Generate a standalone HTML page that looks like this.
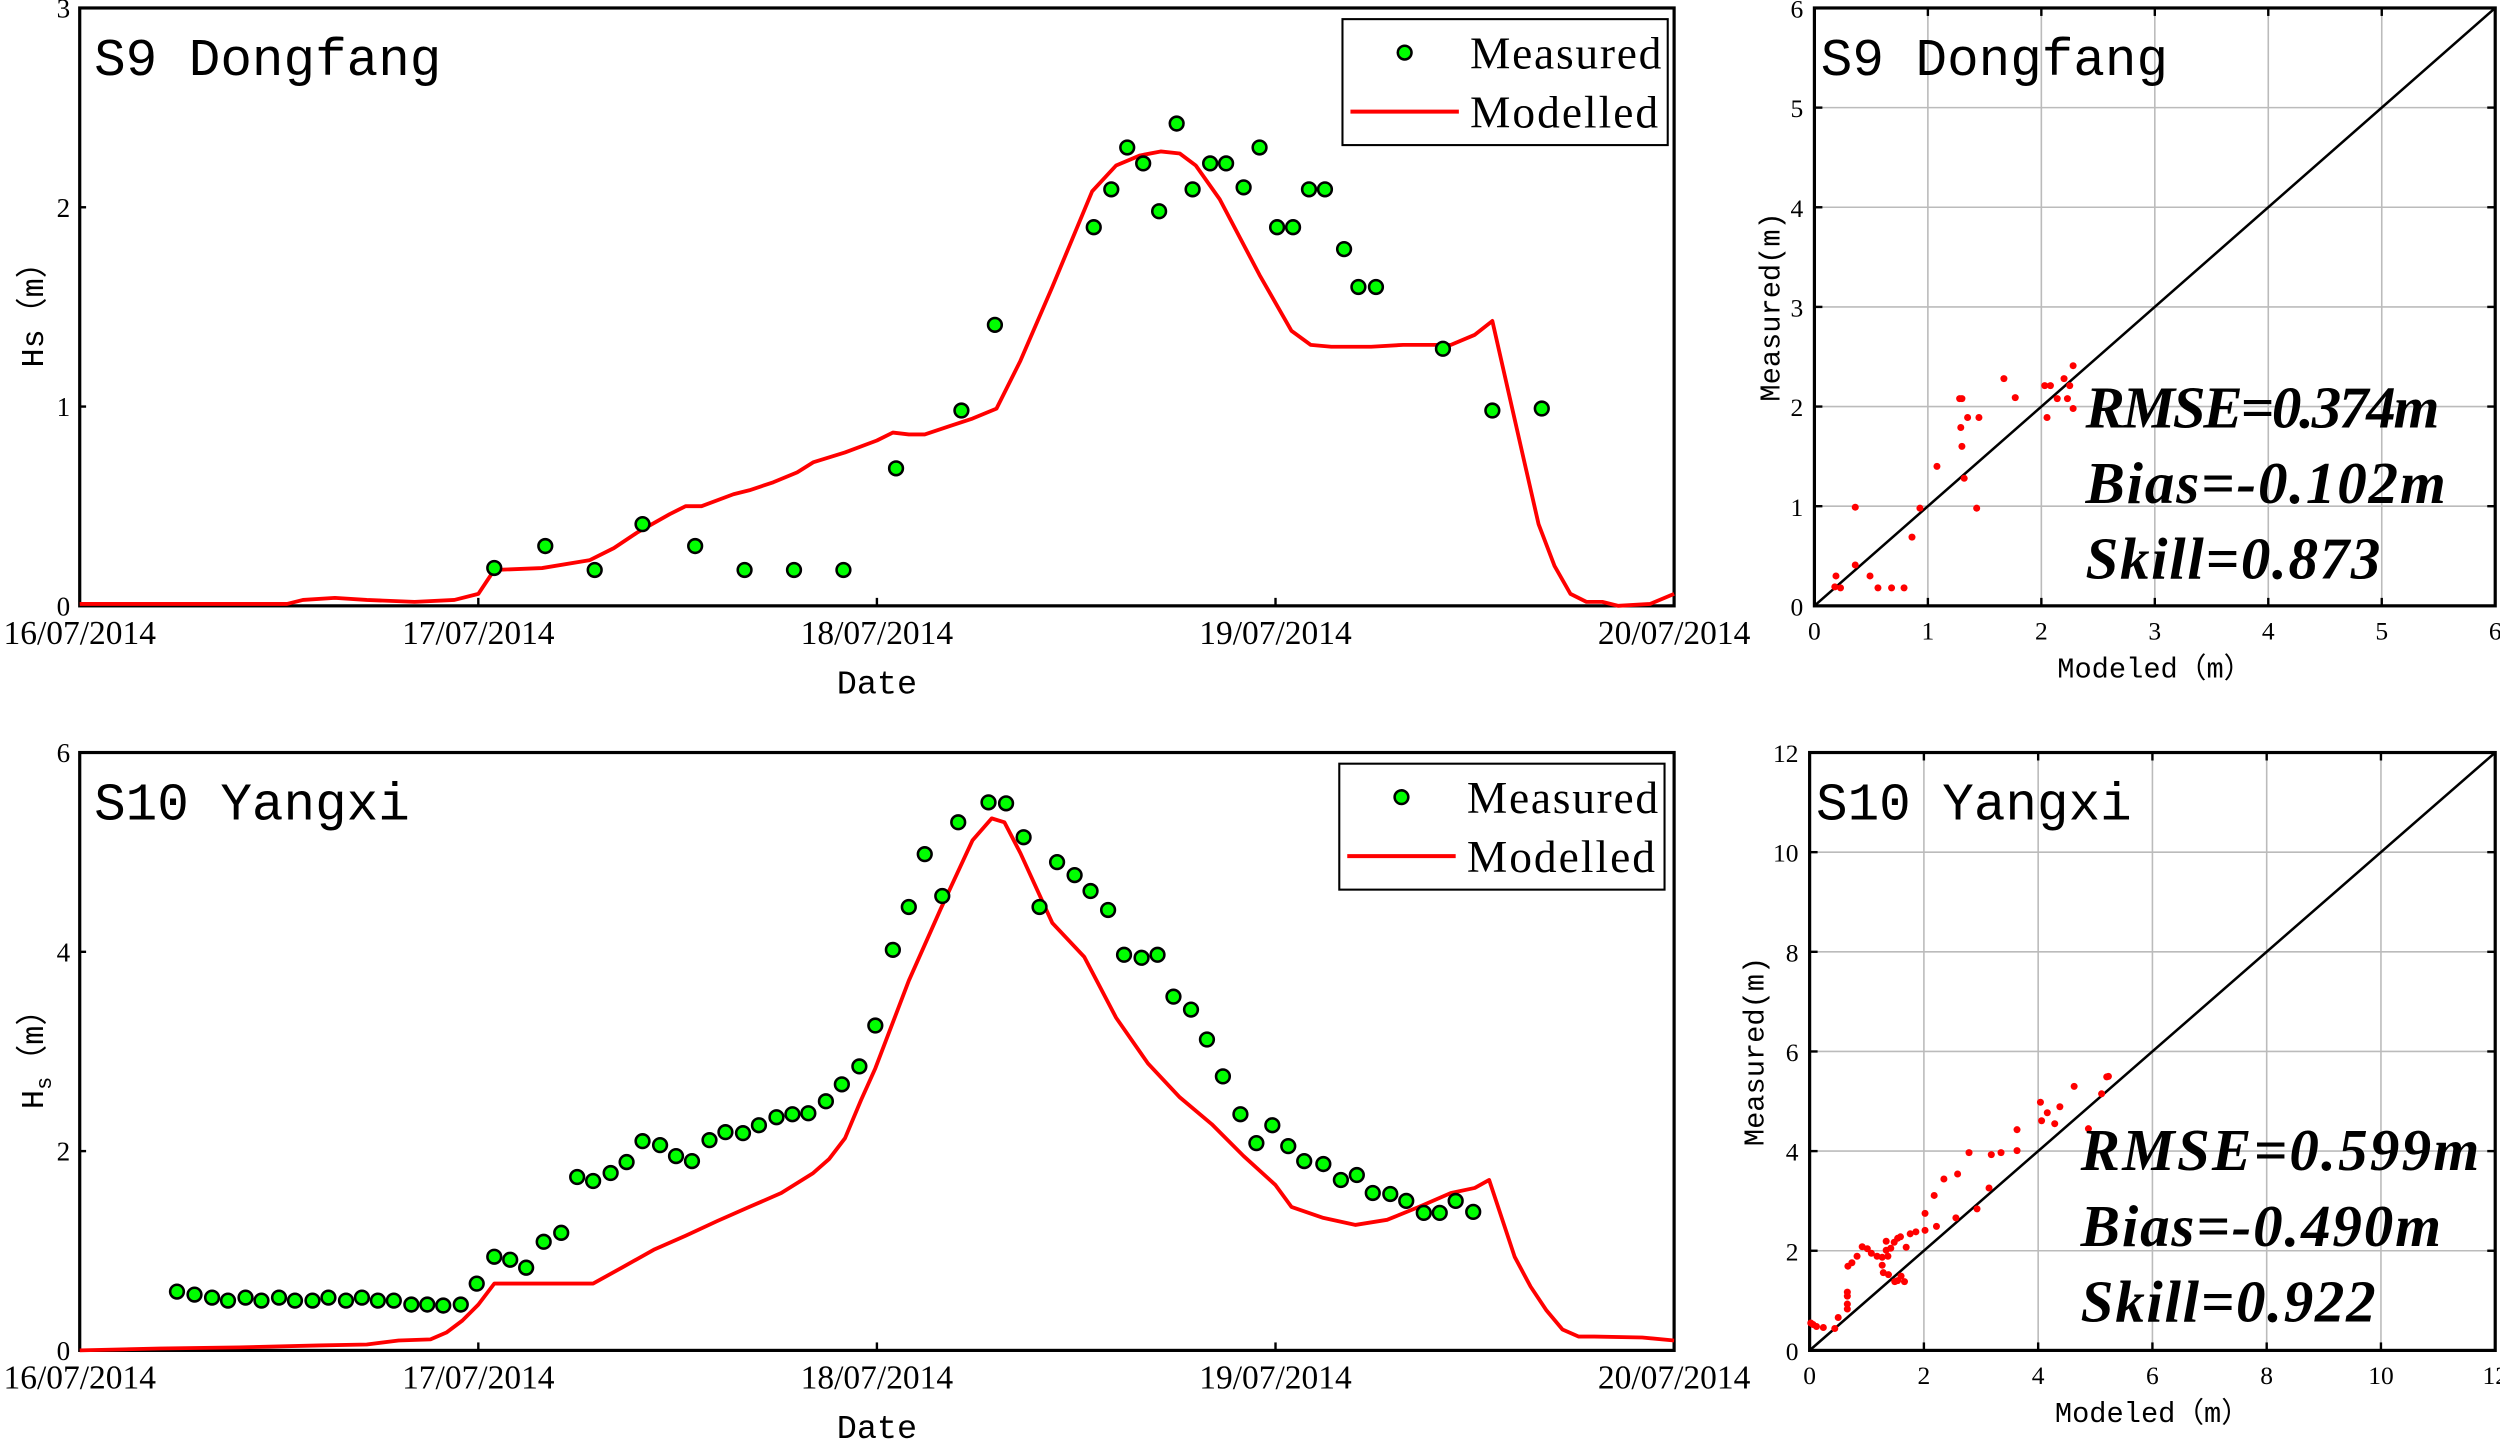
<!DOCTYPE html>
<html><head><meta charset="utf-8"><style>
html,body{margin:0;padding:0;background:#fff;}
svg{display:block;}
text{font-family:"Liberation Serif","Noto Serif CJK SC",serif;fill:#000;}
.mono{font-family:"Liberation Mono","Noto Sans CJK SC",monospace;}
.stat{font-weight:bold;font-style:italic;font-size:37px;}
</style></head><body>
<svg id="fig" width="2500" height="1440" viewBox="0 0 1568 903.2" preserveAspectRatio="none" xmlns="http://www.w3.org/2000/svg"></svg>
<script>
// ---------- data ----------
const dateTicks = ["16/07/2014","17/07/2014","18/07/2014","19/07/2014","20/07/2014"];
const s9MeasDay = [1.04,1.168,1.292,1.412,1.544,1.668,1.792,1.916,2.048,2.212,2.296,2.544,2.588,2.628,2.668,2.708,2.752,2.792,2.836,2.876,2.92,2.96,3.004,3.044,3.084,3.124,3.172,3.208,3.252,3.42,3.544,3.668];
const s9MeasHs = [0.19,0.30,0.18,0.41,0.30,0.18,0.18,0.18,0.69,0.98,1.41,1.90,2.09,2.30,2.22,1.98,2.42,2.09,2.22,2.22,2.10,2.30,1.90,1.90,2.09,2.09,1.79,1.60,1.60,1.29,0.98,0.99];
const s9ModDay = [0,0.4,0.52,0.56,0.64,0.72,0.84,0.94,1.0,1.04,1.16,1.28,1.34,1.4,1.48,1.52,1.56,1.64,1.68,1.74,1.8,1.84,1.92,2.0,2.04,2.08,2.12,2.18,2.24,2.3,2.36,2.44,2.54,2.6,2.66,2.712,2.76,2.8,2.86,2.96,3.04,3.088,3.14,3.18,3.24,3.32,3.38,3.44,3.5,3.544,3.62,3.66,3.7,3.74,3.78,3.82,3.86,3.94,4.0];
const s9ModHs = [0.01,0.01,0.01,0.03,0.04,0.03,0.02,0.03,0.06,0.18,0.19,0.23,0.29,0.37,0.46,0.50,0.50,0.56,0.58,0.62,0.67,0.72,0.77,0.83,0.87,0.86,0.86,0.90,0.94,0.99,1.23,1.60,2.08,2.21,2.26,2.28,2.27,2.21,2.04,1.66,1.38,1.31,1.30,1.30,1.30,1.31,1.31,1.31,1.36,1.43,0.76,0.41,0.20,0.06,0.02,0.02,0.0,0.01,0.06];

const s10MeasDay = [0.244,0.288,0.332,0.372,0.416,0.456,0.5,0.54,0.584,0.624,0.668,0.708,0.748,0.788,0.832,0.872,0.912,0.956,0.996,1.04,1.08,1.12,1.164,1.208,1.248,1.288,1.332,1.372,1.412,1.456,1.496,1.536,1.58,1.62,1.664,1.704,1.748,1.788,1.828,1.872,1.912,1.956,1.996,2.04,2.08,2.12,2.164,2.204,2.28,2.324,2.368,2.408,2.452,2.496,2.536,2.58,2.62,2.664,2.704,2.744,2.788,2.828,2.868,2.912,2.952,2.992,3.032,3.072,3.12,3.164,3.204,3.244,3.288,3.328,3.372,3.412,3.452,3.496];
const s10MeasHs = [0.59,0.56,0.53,0.50,0.53,0.50,0.53,0.50,0.50,0.53,0.50,0.53,0.50,0.50,0.46,0.46,0.45,0.46,0.67,0.94,0.91,0.83,1.09,1.18,1.74,1.70,1.78,1.89,2.10,2.06,1.95,1.90,2.11,2.19,2.18,2.26,2.34,2.37,2.38,2.50,2.67,2.85,3.26,4.02,4.45,4.98,4.56,5.30,5.50,5.49,5.15,4.45,4.90,4.77,4.61,4.42,3.97,3.94,3.97,3.55,3.42,3.12,2.75,2.37,2.08,2.26,2.05,1.90,1.87,1.71,1.76,1.58,1.57,1.50,1.38,1.38,1.50,1.39];
const s10ModDay = [0,0.2,0.4,0.6,0.72,0.8,0.88,0.92,0.96,1.0,1.04,1.16,1.288,1.36,1.44,1.52,1.6,1.68,1.76,1.84,1.88,1.92,1.96,1.996,2.08,2.16,2.24,2.288,2.32,2.36,2.44,2.52,2.6,2.68,2.76,2.84,2.92,3.0,3.04,3.12,3.2,3.28,3.36,3.44,3.5,3.536,3.6,3.64,3.68,3.72,3.76,3.8,3.92,4.0];
const s10ModHs = [0,0.02,0.03,0.05,0.06,0.10,0.11,0.18,0.30,0.46,0.67,0.67,0.67,0.83,1.01,1.15,1.30,1.44,1.58,1.78,1.92,2.13,2.51,2.83,3.71,4.43,5.12,5.34,5.30,4.99,4.29,3.95,3.34,2.88,2.54,2.27,1.95,1.66,1.44,1.33,1.26,1.31,1.44,1.58,1.63,1.71,0.94,0.64,0.40,0.21,0.14,0.14,0.13,0.10];

const s9ScModeled = [0.18,0.19,0.23,0.36,0.36,0.49,0.56,0.68,0.79,0.86,0.93,1.08,1.28,1.30,1.29,1.30,1.32,1.35,1.45,1.43,1.67,1.77,2.03,2.08,2.05,2.14,2.20,2.23,2.25,2.28,2.28];
const s9ScMeasured = [0.19,0.30,0.18,0.99,0.41,0.30,0.18,0.18,0.18,0.69,0.98,1.40,2.08,2.08,1.79,1.60,1.28,1.89,1.89,0.98,2.28,2.09,2.21,2.21,1.89,2.08,2.28,2.08,2.21,2.41,1.98];
const s10ScModeled = [0.02,0.06,0.12,0.24,0.44,0.50,0.66,0.66,0.66,0.66,0.67,0.74,0.83,0.92,1.01,1.08,1.18,1.27,1.27,1.29,1.34,1.34,1.37,1.38,1.42,1.48,1.49,1.54,1.59,1.54,1.60,1.66,1.69,1.76,1.86,2.02,2.02,2.22,2.18,2.35,2.56,2.59,2.79,2.93,3.14,3.18,3.35,3.63,3.63,4.04,4.06,4.16,4.29,4.38,4.63,4.88,5.11,5.20,5.23];
const s10ScMeasured = [0.55,0.52,0.48,0.46,0.44,0.66,1.17,1.09,0.93,0.83,1.69,1.76,1.89,2.08,2.04,1.95,1.89,1.87,1.71,1.56,2.01,2.19,1.89,1.52,2.05,2.17,1.38,2.25,2.28,1.40,1.49,1.38,2.07,2.34,2.38,2.41,2.75,2.49,3.11,3.44,2.66,3.54,3.97,2.84,3.26,3.93,3.97,4.43,4.01,4.98,4.61,4.77,4.55,4.89,5.30,4.45,5.15,5.49,5.50];

// ---------- helpers ----------
const NS="http://www.w3.org/2000/svg";
const svg=document.getElementById('fig');
function mk(tag,attrs,parent){const e=document.createElementNS(NS,tag);for(const k in attrs)e.setAttribute(k,attrs[k]);(parent||svg).appendChild(e);return e;}
function txt(s,attrs,parent){const e=mk('text',attrs,parent);e.textContent=s;return e;}

function timePanel(cfg){
  const g=mk('g',{});
  
  
  const X=d=>cfg.x0+(cfg.x1-cfg.x0)*d/4;
  const Y=v=>cfg.y1-(cfg.y1-cfg.y0)*v/cfg.ymax;
  const frame=mk('rect',{x:cfg.x0,y:cfg.y0,width:cfg.x1-cfg.x0,height:cfg.y1-cfg.y0,fill:'none',stroke:'#000','stroke-width':2},g);
  
  
  for(let v=0;v<=cfg.ymax;v+=cfg.ystep){
    mk('line',{x1:cfg.x0,x2:cfg.x0+4,y1:Y(v),y2:Y(v),stroke:'#000','stroke-width':1.5},g);
    const t=txt(String(v),{x:cfg.x0-6,y:Y(v)+6,'text-anchor':'end','font-size':17},g);
    
    
  }
  dateTicks.forEach((s,i)=>{
    mk('line',{x1:X(i),x2:X(i),y1:cfg.y1,y2:cfg.y1-5,stroke:'#000','stroke-width':1.5},g);
    const t=txt(s,{x:X(i),y:cfg.y1+24,'text-anchor':'middle','font-size':21},g);
    
    
  });
  const d=cfg.modDay.map((dd,i)=>(i?'L':'M')+X(dd).toFixed(1)+','+Y(cfg.modHs[i]).toFixed(1)).join(' ');
  const line=mk('path',{d:d,fill:'none',stroke:'#f00','stroke-width':2.4,'stroke-linejoin':'round'},g);
  
  
  cfg.measDay.forEach((dd,i)=>{
    const c=mk('circle',{cx:X(dd),cy:Y(cfg.measHs[i]),r:4.3,fill:'#0f0',stroke:'#000','stroke-width':1.6},g);
    
    
  });
  const title=txt(cfg.title,{x:cfg.x0+9,y:cfg.y0+42,'font-size':33,class:'mono'},g);
  
  
  const lg=mk('g',{},g);
  
  
  const lx=cfg.legX, ly=cfg.legY;
  mk('rect',{x:lx,y:ly,width:204,height:79,fill:'#fff',stroke:'#000','stroke-width':1.3},lg);
  mk('circle',{cx:lx+39,cy:ly+21,r:4.3,fill:'#0f0',stroke:'#000','stroke-width':1.6},lg);
  const t1=txt('Measured',{x:lx+80,y:ly+31,'font-size':28.5,textLength:120},lg);
  
  
  mk('line',{x1:lx+5,x2:lx+73,y1:ly+58,y2:ly+58,stroke:'#f00','stroke-width':2.5},lg);
  const t2=txt('Modelled',{x:lx+80,y:ly+68,'font-size':28.5,textLength:118},lg);
  
  
  const xl=txt('Date',{x:(cfg.x0+cfg.x1)/2,y:cfg.y1+55,'text-anchor':'middle','font-size':21,class:'mono'},g);
  
  
  const yc=(cfg.y0+cfg.y1)/2;
  const yl=txt('',{x:0,y:0,'text-anchor':'middle','font-size':20,class:'mono',transform:`translate(27,${yc}) rotate(-90)`},g);
  
  
  if(cfg.sub){
    const a=mk('tspan',{},yl);a.textContent='H';
    const b=mk('tspan',{dy:5,'font-size':14},yl);b.textContent='s';
    const c=mk('tspan',{dy:-5},yl);c.textContent='（m）';
  } else yl.textContent='Hs（m）';
}

function scatterPanel(cfg){
  const g=mk('g',{});
  
  
  const X=v=>cfg.x0+(cfg.x1-cfg.x0)*v/cfg.max;
  const Y=v=>cfg.y1-(cfg.y1-cfg.y0)*v/cfg.max;
  for(let v=cfg.step;v<cfg.max;v+=cfg.step){
    mk('line',{x1:X(v),x2:X(v),y1:cfg.y0,y2:cfg.y1,stroke:'#bbb','stroke-width':1},g);
    mk('line',{x1:cfg.x0,x2:cfg.x1,y1:Y(v),y2:Y(v),stroke:'#bbb','stroke-width':1},g);
  }
  for(let v=0;v<=cfg.max;v+=cfg.step){
    mk('line',{x1:X(v),x2:X(v),y1:cfg.y1,y2:cfg.y1-5,stroke:'#000','stroke-width':1.5},g);
    mk('line',{x1:X(v),x2:X(v),y1:cfg.y0,y2:cfg.y0+5,stroke:'#000','stroke-width':1.5},g);
    mk('line',{x1:cfg.x0,x2:cfg.x0+5,y1:Y(v),y2:Y(v),stroke:'#000','stroke-width':1.5},g);
    mk('line',{x1:cfg.x1,x2:cfg.x1-5,y1:Y(v),y2:Y(v),stroke:'#000','stroke-width':1.5},g);
    const tx=txt(String(v),{x:X(v),y:cfg.y1+21,'text-anchor':'middle','font-size':16},g);
    
    
    const ty=txt(String(v),{x:cfg.x0-7,y:Y(v)+6,'text-anchor':'end','font-size':16},g);
    
    
  }
  const fr=mk('rect',{x:cfg.x0,y:cfg.y0,width:cfg.x1-cfg.x0,height:cfg.y1-cfg.y0,fill:'none',stroke:'#000','stroke-width':2},g);
  
  
  const dl=mk('line',{x1:X(0),y1:Y(0),x2:X(cfg.max),y2:Y(cfg.max),stroke:'#000','stroke-width':1.6},g);
  
  
  cfg.mod.forEach((m,i)=>{
    const c=mk('circle',{cx:X(m),cy:Y(cfg.meas[i]),r:2.2,fill:'#f00'},g);
    
    
  });
  const title=txt(cfg.title,{x:cfg.x0+4,y:cfg.y0+42,'font-size':33,class:'mono'},g);
  
  
  cfg.stats.forEach((s,i)=>{
    const t=txt(s,{x:cfg.sx,y:cfg.sy+i*47.5,class:'stat',textLength:cfg.lens[i]},g);
    
    
  });
  const xl=txt('Modeled（m）',{x:(cfg.x0+cfg.x1)/2,y:cfg.y1+45,'text-anchor':'middle','font-size':18,class:'mono'},g);
  
  
  const yc=(cfg.y0+cfg.y1)/2;
  const yl=txt('Measured(m)',{x:0,y:0,'text-anchor':'middle','font-size':18,class:'mono',transform:`translate(${cfg.ylx},${yc}) rotate(-90)`},g);
  
  
}

timePanel({name:'s9-timeseries',x0:50,x1:1050,y0:5,y1:380,ymax:3,ystep:1,title:'S9 Dongfang',
  measDay:s9MeasDay,measHs:s9MeasHs,modDay:s9ModDay,modHs:s9ModHs,legX:842,legY:12,sub:false});
timePanel({name:'s10-timeseries',x0:50,x1:1050,y0:472,y1:847,ymax:6,ystep:2,title:'S10 Yangxi',
  measDay:s10MeasDay,measHs:s10MeasHs,modDay:s10ModDay,modHs:s10ModHs,legX:840,legY:479,sub:true});
scatterPanel({name:'s9-scatter',x0:1138,x1:1565,y0:5,y1:380,max:6,step:1,title:'S9 Dongfang',
  mod:s9ScModeled,meas:s9ScMeasured,stats:['RMSE=0.374m','Bias=-0.102m','Skill=0.873'],lens:[222,226,185],sx:1308,sy:268,ylx:1116});
scatterPanel({name:'s10-scatter',x0:1135,x1:1565,y0:472,y1:847,max:12,step:2,title:'S10 Yangxi',
  mod:s10ScModeled,meas:s10ScMeasured,stats:['RMSE=0.599m','Bias=-0.490m','Skill=0.922'],lens:[250,226,185],sx:1305,sy:734,ylx:1106});
</script>
</body></html>
